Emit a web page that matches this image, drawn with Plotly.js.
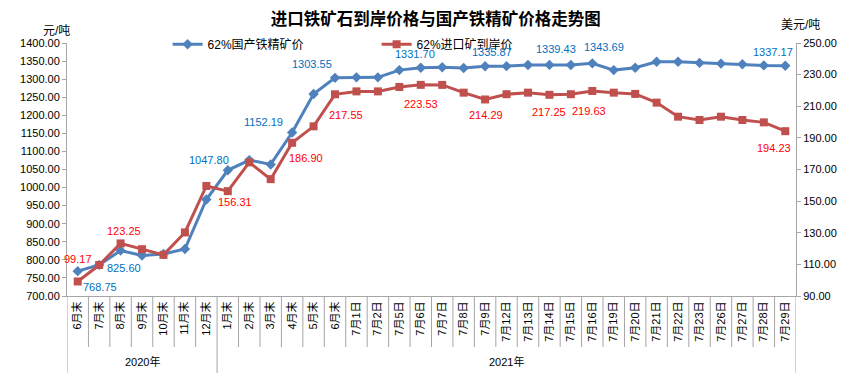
<!DOCTYPE html>
<html>
<head>
<meta charset="utf-8">
<script src="https://cdn.plot.ly/plotly-3.0.1.min.js"></script>
<style>html,body{margin:0;padding:0;background:#fff}#chart{width:854px;height:373px}</style>
</head>
<body>
<div id="chart"></div>
<script>
const categories = ["6月末","7月末","8月末","9月末","10月末","11月末","12月末",
  "1月末","2月末","3月末","4月末","5月末","6月末",
  "7月1日","7月2日","7月5日","7月6日","7月7日","7月8日","7月9日","7月12日","7月13日","7月14日","7月15日","7月16日",
  "7月19日","7月20日","7月21日","7月22日","7月23日","7月26日","7月27日","7月28日","7月29日"];
const years = [{label:"2020年", first:0, last:6},{label:"2021年", first:7, last:33}];
const domestic = [768.75,786,825.60,812,816,830,967,
  1047.80,1076,1064,1152.19,1259,1303.55,
  1305,1305,1325,1331.70,1333,1331,1335.87,1336,1339,1339.43,1339,1343.69,
  1325,1331.7,1348,1348,1345,1343,1341,1338,1337.17];
const imported = [99.17,109.6,123.25,119.6,116,130.2,159.6,
  156.31,174.5,163.9,186.90,197.3,217.55,
  219.4,219.4,222.2,223.53,223.5,218.6,214.29,217.6,218.6,217.25,217.6,219.63,
  218.6,217.8,212.3,203.4,201.3,203.4,201.3,199.8,194.23];
const seriesNames = ["62%国产铁精矿价","62%进口矿到岸价"];
// labelled points: [index, xshift, yshift]
const domLabels = [[0,22,-16],[2,3,-17],[7,-19,10],[10,-29,11],[12,-23,14],[16,-6,14],[19,7,14],[22,7,16],[24,12,16],[33,-12,14]];
const impLabels = [[0,0,23],[2,3,12],[7,7,-11],[10,14,-15],[12,11,-21],[16,0,-19],[19,1,-16],[22,0,-17],[24,-3,-20],[33,-11,-17]];

const xs = categories.map((c,i)=>i);
const FONT = "Liberation Sans, Arial, Noto Sans CJK SC, sans-serif";
const traces = [
  {x: xs, y: domestic, name: seriesNames[0], type:'scatter', mode:'lines+markers',
   line:{color:'#4F81BD', width:3}, marker:{symbol:'diamond', size:8, color:'#4F81BD'}, yaxis:'y'},
  {x: xs, y: imported, name: seriesNames[1], type:'scatter', mode:'lines+markers',
   line:{color:'#C0504D', width:3}, marker:{symbol:'square', size:8, color:'#C0504D'}, yaxis:'y2'}
];
const annotations = [];
domLabels.forEach(([i,dx,dy])=>annotations.push({x:i, y:domestic[i], xref:'x', yref:'y', text:domestic[i].toFixed(2),
  showarrow:false, xshift:dx, yshift:dy, font:{size:11, color:'#0070C0', family:FONT}}));
impLabels.forEach(([i,dx,dy])=>annotations.push({x:i, y:imported[i], xref:'x', yref:'y2', text:imported[i].toFixed(2),
  showarrow:false, xshift:dx, yshift:dy, font:{size:11, color:'#FF0000', family:FONT}}));
years.forEach(yr=>annotations.push({x:(yr.first+yr.last)/2, y:-0.26, xref:'x', yref:'paper', text:yr.label,
  showarrow:false, yanchor:'middle', font:{size:11, color:'#000', family:FONT}}));
annotations.push({x:-0.015, y:1.047, xref:'paper', yref:'paper', xanchor:'center', yanchor:'middle', text:'元/吨', showarrow:false,
  font:{size:12, color:'#000', family:FONT}});
annotations.push({x:1.0055, y:1.071, xref:'paper', yref:'paper', xanchor:'center', yanchor:'middle', text:'美元/吨', showarrow:false,
  font:{size:12, color:'#000', family:FONT}});

const shapes = [];
for (let i=0;i<=categories.length;i++){
  shapes.push({type:'line', xref:'x', yref:'paper', x0:i-0.5, x1:i-0.5, y0:0, y1:-0.2016, line:{color:'#A6A6A6', width:1}});
}
const yb = [years[0].first-0.5].concat(years.map(y=>y.last+0.5));
yb.forEach(b=>shapes.push({type:'line', xref:'x', yref:'paper', x0:b, x1:b, y0:-0.2, y1:-0.31, line:{color:'#A6A6A6', width:1}}));

const layout = {
  width:854, height:373,
  margin:{l:67, r:58, t:43, b:77},
  paper_bgcolor:'#fff', plot_bgcolor:'#fff',
  font:{family:FONT, size:11, color:'#000'},
  title:{text:'进口铁矿石到岸价格与国产铁精矿价格走势图', x:0.506, xanchor:'center', xref:'paper', y:0.949, yref:'container', yanchor:'middle',
    font:{size:16.5, color:'#000', family:'Noto Sans CJK SC, sans-serif', weight:'bold'}},
  xaxis:{range:[-0.5, categories.length-0.5], tickvals:xs, ticktext:categories, tickangle:-90,
    showgrid:false, zeroline:false, showline:true, linecolor:'#A6A6A6', linewidth:1, ticks:'',
    tickfont:{size:11, family:FONT}, fixedrange:true},
  yaxis:{range:[700,1400], dtick:50, tick0:700, tickformat:'.2f', showgrid:false, zeroline:false, showline:true,
    linecolor:'#A6A6A6', ticks:'outside', ticklen:4, tickcolor:'#A6A6A6', tickfont:{size:11, family:FONT}},
  yaxis2:{range:[90,250], dtick:20, tick0:90, tickformat:'.2f', overlaying:'y', side:'right', showgrid:false, zeroline:false,
    showline:true, linecolor:'#A6A6A6', ticks:'outside', ticklen:4, tickcolor:'#A6A6A6', tickfont:{size:11, family:FONT}},
  legend:{orientation:'h', x:0.138, xanchor:'left', y:0.995, yanchor:'middle', bgcolor:'rgba(0,0,0,0)',
    font:{size:12, family:FONT}, entrywidth:164, itemwidth:30},
  showlegend:true,
  annotations: annotations,
  shapes: shapes
};
Plotly.newPlot('chart', traces, layout, {displayModeBar:false, staticPlot:true});
</script>
</body>
</html>
